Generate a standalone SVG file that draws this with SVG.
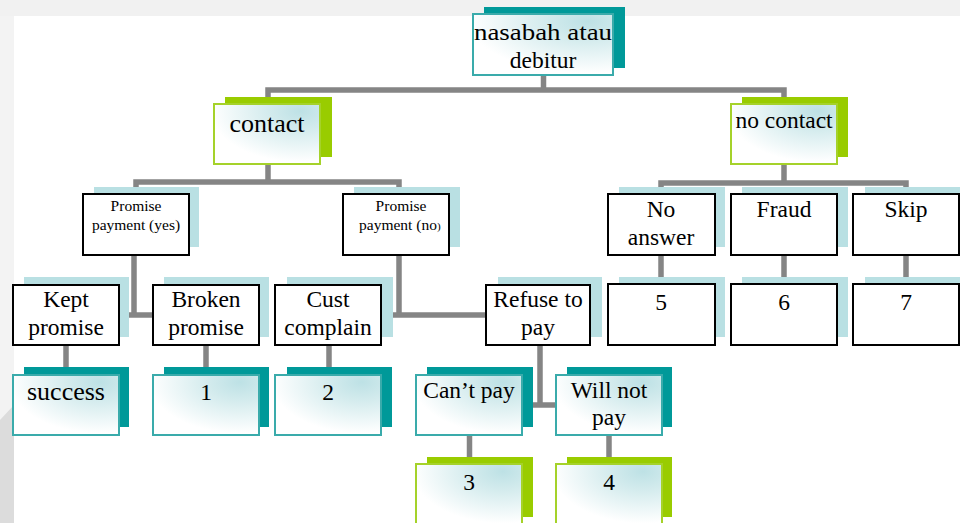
<svg xmlns="http://www.w3.org/2000/svg" width="960" height="523" viewBox="0 0 960 523">
  <defs>
    <radialGradient id="boxFill" cx="0.82" cy="0.12" r="0.85" gradientUnits="objectBoundingBox">
      <stop offset="0" stop-color="#bde1e5"/>
      <stop offset="0.35" stop-color="#d3ebed"/>
      <stop offset="1" stop-color="#ffffff"/>
    </radialGradient>
    <style>
      .sh-teal { fill: #009999; }
      .sh-green { fill: #99cc00; }
      .sh-blue { fill: #b9e0e3; }
      .fr-teal { fill: url(#boxFill); stroke: #3aabab; stroke-width: 2; }
      .fr-green { fill: url(#boxFill); stroke: #a5d22a; stroke-width: 2; }
      .fr-plain { fill: #ffffff; stroke: #000000; stroke-width: 2; }
      .lbl { font-family: "Liberation Serif", "Times New Roman", serif; font-size: 23.5px; text-anchor: middle; fill: #000000; }
      .big { font-size: 26px; }
      .sm { font-size: 15.5px; }
      .conn { fill: none; stroke: #858585; stroke-width: 5.5; stroke-linejoin: miter; }
    </style>
  </defs>

  <!-- page background -->
  <rect x="0" y="0" width="960" height="523" fill="#ffffff"/>
  <rect x="0" y="0" width="960" height="16" fill="#f1f1f1"/>
  <rect x="0" y="16" width="14" height="507" fill="#f3f3f3"/>
  <polygon points="0,420 14,405 14,523 0,523" fill="#dcdcdc"/>

  <!-- connectors -->
  <g id="connectors" class="conn">
    <path d="M543.5 75 V90"/>
    <path d="M268 104 V90 H784 V104"/>
    <path d="M268 164 V182"/>
    <path d="M136 194 V182 H399 V194"/>
    <path d="M784 164 V183"/>
    <path d="M661 194 V183 H906 V194"/>
    <path d="M134 255 V315"/>
    <path d="M119 315 H153"/>
    <path d="M399 255 V315"/>
    <path d="M381 315 H486"/>
    <path d="M661 255 V284"/>
    <path d="M784 255 V284"/>
    <path d="M906 255 V284"/>
    <path d="M66 345 V375"/>
    <path d="M206 345 V375"/>
    <path d="M329 345 V375"/>
    <path d="M540 345 V405"/>
    <path d="M522 405 H556"/>
    <path d="M469.5 435 V464"/>
    <path d="M609 435 V464"/>
  </g>

  <!-- root -->
  <g id="n-root">
    <rect class="sh-teal" x="484" y="7" width="141" height="61"/>
    <rect class="fr-teal" x="473" y="14" width="140" height="61"/>
    <text class="lbl" x="543" y="40" textLength="138" lengthAdjust="spacingAndGlyphs">nasabah atau</text>
    <text class="lbl" x="543" y="68">debitur</text>
  </g>

  <!-- level 1 -->
  <g id="n-contact">
    <rect class="sh-green" x="225" y="97" width="107" height="60"/>
    <rect class="fr-green" x="214" y="104" width="106" height="60"/>
    <text class="lbl big" x="267" y="132">contact</text>
  </g>
  <g id="n-no-contact">
    <rect class="sh-green" x="742" y="97" width="106" height="60"/>
    <rect class="fr-green" x="731" y="104" width="106" height="60"/>
    <text class="lbl" x="784" y="128">no contact</text>
  </g>

  <!-- level 2 -->
  <g id="n-promise-yes">
    <rect class="sh-blue" x="94" y="187" width="105" height="60"/>
    <rect class="fr-plain" x="83" y="194" width="106" height="61"/>
    <text class="lbl sm" x="136" y="211">Promise</text>
    <text class="lbl sm" x="136" y="230">payment (yes)</text>
  </g>
  <g id="n-promise-no">
    <rect class="sh-blue" x="354" y="187" width="106" height="60"/>
    <rect class="fr-plain" x="343" y="194" width="106" height="61"/>
    <text class="lbl sm" x="401" y="211">Promise</text>
    <text class="lbl sm" x="359" y="230" style="text-anchor:start">payment  (no<tspan font-size="11px">)</tspan></text>
  </g>
  <g id="n-no-answer">
    <rect class="sh-blue" x="619" y="187" width="106" height="60"/>
    <rect class="fr-plain" x="608" y="194" width="107" height="61"/>
    <text class="lbl" x="661" y="217">No</text>
    <text class="lbl" x="661" y="245">answer</text>
  </g>
  <g id="n-fraud">
    <rect class="sh-blue" x="742" y="187" width="106" height="60"/>
    <rect class="fr-plain" x="731" y="194" width="106" height="61"/>
    <text class="lbl" x="784" y="217">Fraud</text>
  </g>
  <g id="n-skip">
    <rect class="sh-blue" x="865" y="187" width="106" height="60"/>
    <rect class="fr-plain" x="853" y="194" width="106" height="61"/>
    <text class="lbl" x="906" y="217">Skip</text>
  </g>

  <!-- level 3 -->
  <g id="n-kept">
    <rect class="sh-blue" x="24" y="277" width="105" height="60"/>
    <rect class="fr-plain" x="13" y="285" width="106" height="60"/>
    <text class="lbl" x="66" y="307">Kept</text>
    <text class="lbl" x="66" y="335">promise</text>
  </g>
  <g id="n-broken">
    <rect class="sh-blue" x="164" y="277" width="105" height="60"/>
    <rect class="fr-plain" x="153" y="285" width="106" height="60"/>
    <text class="lbl" x="206" y="307">Broken</text>
    <text class="lbl" x="206" y="335">promise</text>
  </g>
  <g id="n-cust">
    <rect class="sh-blue" x="287" y="277" width="106" height="60"/>
    <rect class="fr-plain" x="275" y="285" width="106" height="60"/>
    <text class="lbl" x="328" y="307">Cust</text>
    <text class="lbl" x="328" y="335">complain</text>
  </g>
  <g id="n-refuse">
    <rect class="sh-blue" x="498" y="277" width="104" height="60"/>
    <rect class="fr-plain" x="486" y="285" width="104" height="60"/>
    <text class="lbl" x="538" y="307">Refuse to</text>
    <text class="lbl" x="538" y="335">pay</text>
  </g>
  <g id="n-5">
    <rect class="sh-blue" x="619" y="277" width="106" height="60"/>
    <rect class="fr-plain" x="608" y="284" width="107" height="61"/>
    <text class="lbl" x="661" y="310">5</text>
  </g>
  <g id="n-6">
    <rect class="sh-blue" x="742" y="277" width="106" height="60"/>
    <rect class="fr-plain" x="731" y="284" width="106" height="61"/>
    <text class="lbl" x="784" y="310">6</text>
  </g>
  <g id="n-7">
    <rect class="sh-blue" x="865" y="277" width="106" height="60"/>
    <rect class="fr-plain" x="853" y="284" width="106" height="61"/>
    <text class="lbl" x="906" y="310">7</text>
  </g>

  <!-- level 4 -->
  <g id="n-success">
    <rect class="sh-teal" x="24" y="367" width="105" height="60"/>
    <rect class="fr-teal" x="13" y="375" width="106" height="60"/>
    <text class="lbl big" x="66" y="400">success</text>
  </g>
  <g id="n-1">
    <rect class="sh-teal" x="164" y="367" width="105" height="60"/>
    <rect class="fr-teal" x="153" y="375" width="106" height="60"/>
    <text class="lbl" x="206" y="400">1</text>
  </g>
  <g id="n-2">
    <rect class="sh-teal" x="287" y="367" width="105" height="60"/>
    <rect class="fr-teal" x="275" y="375" width="106" height="60"/>
    <text class="lbl" x="328" y="400">2</text>
  </g>
  <g id="n-cant-pay">
    <rect class="sh-teal" x="427" y="367" width="106" height="60"/>
    <rect class="fr-teal" x="416" y="375" width="106" height="60"/>
    <text class="lbl" x="469" y="398">Can’t pay</text>
  </g>
  <g id="n-will-not-pay">
    <rect class="sh-teal" x="567" y="367" width="105" height="60"/>
    <rect class="fr-teal" x="556" y="375" width="106" height="60"/>
    <text class="lbl" x="609" y="398">Will not</text>
    <text class="lbl" x="609" y="425">pay</text>
  </g>

  <!-- level 5 -->
  <g id="n-3">
    <rect class="sh-green" x="427" y="457" width="106" height="60"/>
    <rect class="fr-green" x="416" y="464" width="106" height="61"/>
    <text class="lbl" x="469" y="490">3</text>
  </g>
  <g id="n-4">
    <rect class="sh-green" x="567" y="457" width="105" height="60"/>
    <rect class="fr-green" x="556" y="464" width="106" height="61"/>
    <text class="lbl" x="609" y="490">4</text>
  </g>
</svg>
